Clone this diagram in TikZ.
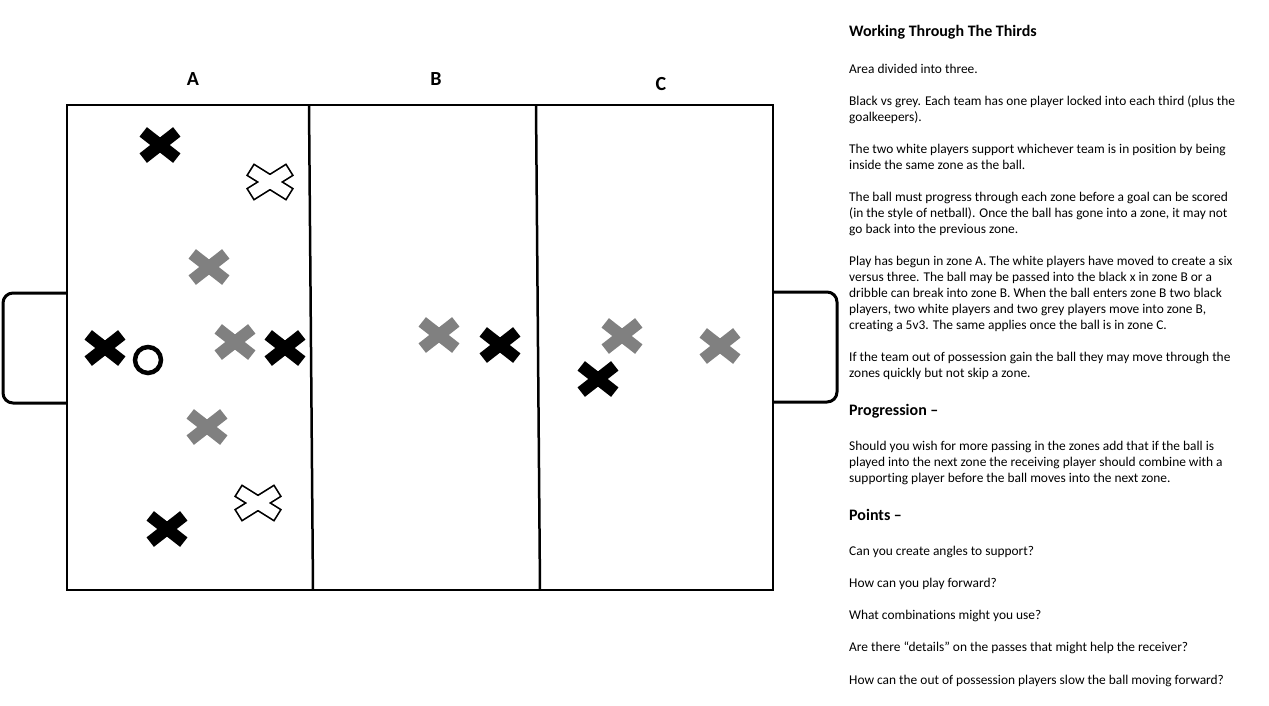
\documentclass[tikz,border=0pt]{standalone}
\usepackage{fontspec}
\setmainfont{Carlito}[Ligatures={NoCommon}]
\definecolor{greyx}{RGB}{128,128,128}
\tikzset{
  pics/bx/.style={code={
    \fill[#1,rotate=38] (-21.3,-6) rectangle (21.3,6);
    \fill[#1,rotate=-38] (-21.3,-6) rectangle (21.3,6);}},
  pics/wx/.style={code={
    \draw[line width=3.4,rotate=32] (-22,-5.6) rectangle (22,5.6);
    \draw[line width=3.4,rotate=-32] (-22,-5.6) rectangle (22,5.6);
    \fill[white,rotate=32] (-22,-5.6) rectangle (22,5.6);
    \fill[white,rotate=-32] (-22,-5.6) rectangle (22,5.6);}},
  body/.style={anchor=base west,inner sep=0,font=\fontsize{13.4}{16}\selectfont},
  head/.style={anchor=base west,inner sep=0,font=\fontsize{16}{18}\selectfont\bfseries},
  zone/.style={font=\fontsize{20}{22}\selectfont\bfseries,inner sep=0},
  fieldline/.style={line width=2.5},
  goal/.style={line width=3,rounded corners=10},
}
\begin{document}
\begin{tikzpicture}[x=1pt,y=-1pt]
\useasboundingbox (0,0) rectangle (1269,705);
% field
\draw[fieldline] (67,105) rectangle (773,590);
\coordinate (d1t) at (309,105); \coordinate (d1b) at (313,590);
\coordinate (d2t) at (536,105); \coordinate (d2b) at (540,590);
\draw[fieldline] (d1t) -- (d1b);
\draw[fieldline] (d2t) -- (d2b);
% goals
\draw[goal] (67,293) -- (3,293) -- (3,403) -- (67,403);
\draw[goal] (773,292) -- (837,292) -- (837,402) -- (773,402);
% zone labels
\node[zone] (A) at (193,79.5) {A};
\node[zone] (B) at (436,79) {B};
\node[zone] (C) at (661,84.5) {C};
% black players
\pic at (160,145) {bx=black};
\pic at (105,348) {bx=black};
\pic at (285,348) {bx=black};
\pic at (167,529) {bx=black};
\pic at (500,345) {bx=black};
\pic at (598,379) {bx=black};
% grey players
\pic at (209,267) {bx=greyx};
\pic at (235,342) {bx=greyx};
\pic at (207,427) {bx=greyx};
\pic at (439,335) {bx=greyx};
\pic at (622,336) {bx=greyx};
\pic at (720,346) {bx=greyx};
% white players
\pic at (270,182) {wx};
\pic at (258,503) {wx};
% ball
\node[circle,draw,line width=4.5,minimum size=26,inner sep=0] (ball) at (148,360) {};
% text
\node[head] (h1) at (849,36.5) {Working Through The Thirds};
\node[body] (t1) at (849,73) {Area divided into three.};
\node[body] (t2) at (849,105) {Black vs grey. Each team has one player locked into each third (plus the};
\node[body] (t3) at (849,121) {goalkeepers).};
\node[body] (t4) at (849,153) {The two white players support whichever team is in position by being};
\node[body] (t5) at (849,169) {inside the same zone as the ball.};
\node[body] (t6) at (849,201) {The ball must progress through each zone before a goal can be scored};
\node[body] (t7) at (849,217) {(in the style of netball). Once the ball has gone into a zone, it may not};
\node[body] (t8) at (849,233) {go back into the previous zone.};
\node[body] (t9) at (849,265) {Play has begun in zone A. The white players have moved to create a six};
\node[body] (t10) at (849,281) {versus three. The ball may be passed into the black x in zone B or a};
\node[body] (t11) at (849,297) {dribble can break into zone B. When the ball enters zone B two black};
\node[body] (t12) at (849,313) {players, two white players and two grey players move into zone B,};
\node[body] (t13) at (849,329) {creating a 5v3. The same applies once the ball is in zone C.};
\node[body] (t14) at (849,361) {If the team out of possession gain the ball they may move through the};
\node[body] (t15) at (849,377) {zones quickly but not skip a zone.};
\node[head] (h2) at (849,415) {Progression –};
\node[body] (t16) at (849,450) {Should you wish for more passing in the zones add that if the ball is};
\node[body] (t17) at (849,466) {played into the next zone the receiving player should combine with a};
\node[body] (t18) at (849,482) {supporting player before the ball moves into the next zone.};
\node[head] (h3) at (849,520) {Points –};
\node[body] (t19) at (849,555) {Can you create angles to support?};
\node[body] (t20) at (849,587) {How can you play forward?};
\node[body] (t21) at (849,619) {What combinations might you use?};
\node[body] (t22) at (849,651) {Are there “details” on the passes that might help the receiver?};
\node[body] (t23) at (849,684) {How can the out of possession players slow the ball moving forward?};
\end{tikzpicture}
\end{document}
